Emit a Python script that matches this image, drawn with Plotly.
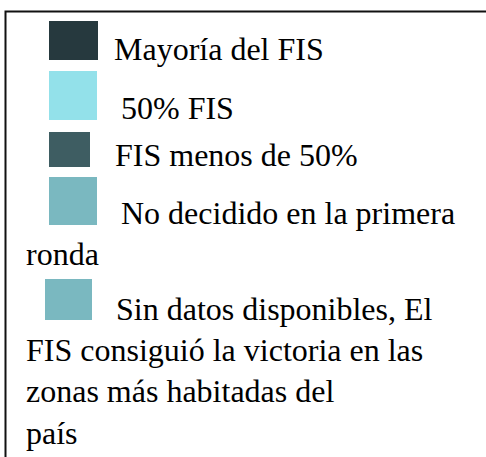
import plotly.graph_objects as go

# ---- data: legend categories (wrapped as in the reference) and colours ----
label_lines = [
    ["Mayoría del FIS"],
    ["50% FIS"],
    ["FIS menos de 50%"],
    ["No decidido en la primera", "ronda"],
    ["Sin datos disponibles, El", "FIS consiguió la victoria en las",
     "zonas más habitadas del", "país"],
]
categories = [" ".join(l) for l in label_lines]
colors = ["#26393e", "#93e1ea", "#3e5d62", "#7ab8c0", "#7ab8c0"]

# ---- layout (pixel positions of legend pieces) ----
W, H = 486, 457
FS = 32
swatch_x0 = [49, 49, 49, 49, 45]
swatch_x1 = [98, 97, 90, 97, 92]
swatch_y0 = [21, 71, 132, 177, 279]
swatch_y1 = [60, 120, 167, 225, 320]
first_x = [115, 122, 116, 122, 117]
cont_x = 27
baselines = [[60], [119], [166], [224, 265], [320, 361, 402, 444]]

ASC = 0.891  # Liberation Serif ascent
PAD = 2

fig = go.Figure()
fig.add_trace(go.Scatter(x=[0, W], y=[0, H], mode="markers",
                         marker=dict(opacity=0), hoverinfo="skip", showlegend=False))

shapes = []
annotations = []
for i, cat in enumerate(categories):
    shapes.append(dict(type="rect", xref="x", yref="y",
                       x0=swatch_x0[i], x1=swatch_x1[i], y0=swatch_y0[i], y1=swatch_y1[i],
                       fillcolor=colors[i], line=dict(width=0), layer="above"))
    for j, line in enumerate(label_lines[i]):
        x = first_x[i] if j == 0 else cont_x
        top = baselines[i][j] - PAD - ASC * FS
        annotations.append(dict(xref="x", yref="y", x=x - PAD - 1, y=top,
                                xanchor="left", yanchor="top", showarrow=False,
                                text=line, align="left",
                                font=dict(family="Liberation Serif", size=FS, color="#000000")))

# box border (left and top edges visible)
shapes.append(dict(type="path", xref="x", yref="y",
                   path=f"M 5.5 {H} L 5.5 11.5 L {W+5} 11.5",
                   line=dict(color="#111111", width=2)))

fig.update_layout(
    width=W, height=H,
    margin=dict(l=0, r=0, t=0, b=0),
    paper_bgcolor="white", plot_bgcolor="white",
    xaxis=dict(range=[0, W], visible=False, fixedrange=True),
    yaxis=dict(range=[H, 0], visible=False, fixedrange=True),
    shapes=shapes, annotations=annotations, showlegend=False,
)
fig.write_html("out.html", config={"displayModeBar": False},
               post_script="document.body.style.margin='0';document.body.style.padding='0';")
